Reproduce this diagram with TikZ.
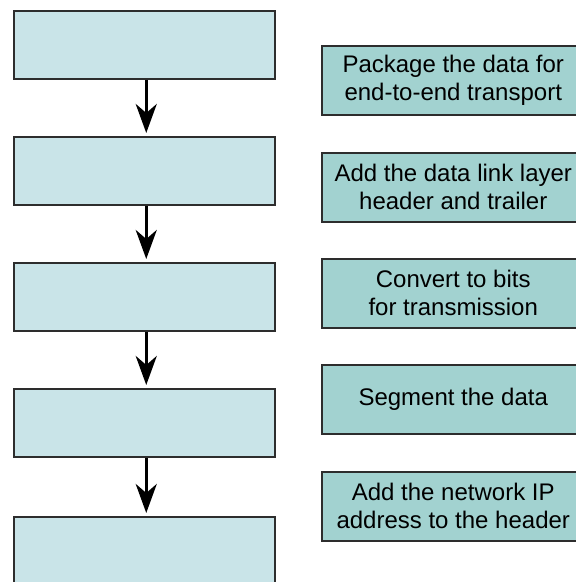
\documentclass[tikz,border=0pt]{standalone}
\usepackage{fontspec}
\setmainfont{Liberation Sans}
\usetikzlibrary{arrows.meta}
\definecolor{leftfill}{RGB}{201,228,232}
\definecolor{rightfill}{RGB}{162,210,208}
\definecolor{edge}{RGB}{45,45,45}
\tikzset{
  stagebox/.style={draw=edge, line width=1.5pt, fill=leftfill, anchor=north west,
    minimum width=261pt, minimum height=68pt, inner sep=0pt},
  taskbox/.style={draw=edge, line width=1.5pt, fill=rightfill, anchor=north west,
    minimum width=263pt, minimum height=69pt, inner sep=0pt, align=center,
    font=\fontsize{24}{28}\selectfont},
  flow/.style={line width=3.2pt, black, shorten >=3pt,
    -{Stealth[length=29pt, width=21pt, inset=9pt]}}
}
\begin{document}
\begin{tikzpicture}[x=1pt, y=-1pt]
\useasboundingbox (0,0) rectangle (576,582);
\clip (0,0) rectangle (576,582);
\node[stagebox] (s1) at (13,10) {};
\node[stagebox] (s2) at (13,136) {};
\node[stagebox] (s3) at (13,262) {};
\node[stagebox] (s4) at (13,388) {};
\node[stagebox] (s5) at (13,516) {};
\draw[flow] ([xshift=2pt]s1.south) -- ([xshift=2pt]s2.north);
\draw[flow] ([xshift=2pt]s2.south) -- ([xshift=2pt]s3.north);
\draw[flow] ([xshift=2pt]s3.south) -- ([xshift=2pt]s4.north);
\draw[flow] ([xshift=2pt]s4.south) -- ([xshift=2pt]s5.north);
\node[taskbox] (t1) at (321,45) {Package the data for\\end-to-end transport};
\node[taskbox] (t2) at (321,152) {Add the data link layer\\header and trailer};
\node[taskbox] (t3) at (321,258) {Convert to bits\\for transmission};
\node[taskbox] (t4) at (321,364) {Segment the data};
\node[taskbox] (t5) at (321,471) {Add the network IP\\address to the header};
\end{tikzpicture}
\end{document}
